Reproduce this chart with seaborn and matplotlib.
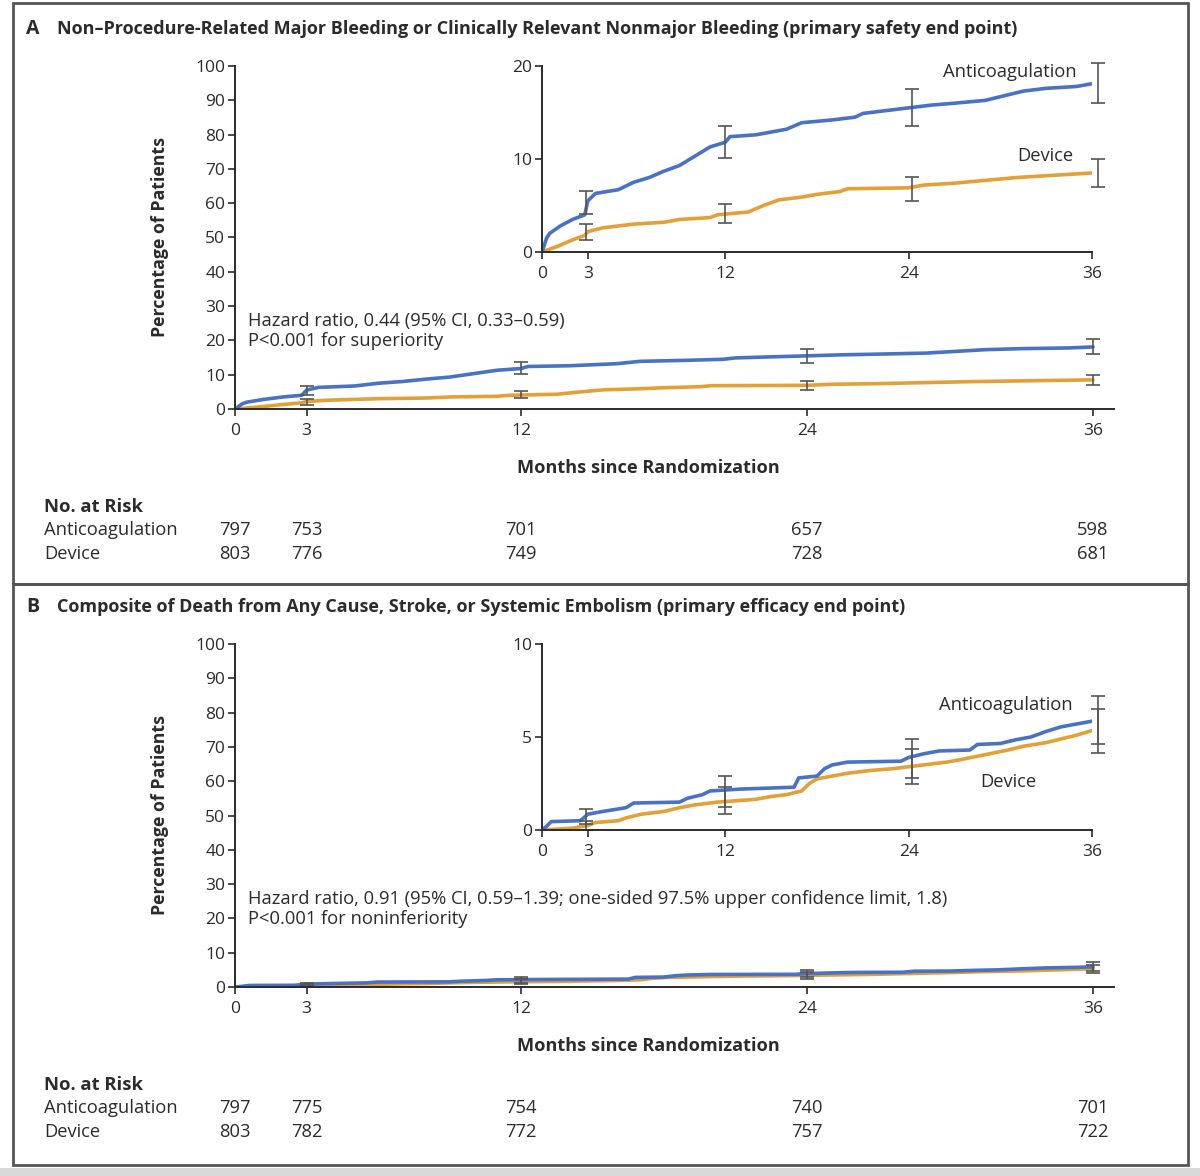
import matplotlib
matplotlib.use("Agg")
import matplotlib.pyplot as plt
import seaborn as sns

# panel A: bleeding end point (percent of patients, KM estimates)
a_anti_t = [0, 0.3, 0.5, 1.2, 2.0, 2.8, 3.0, 3.5, 5.0, 6.0, 7.0, 8.0, 9.0, 10.0, 11.0, 12.0, 12.3,
            14.0, 16.0, 17.0, 19.0, 20.5, 21.0, 23.0, 24.5, 25.5, 27.0, 29.0, 30.5, 31.5, 33.0, 35.0, 36.0]
a_anti_y = [0, 1.5, 2.0, 2.8, 3.5, 4.0, 5.5, 6.3, 6.7, 7.5, 8.0, 8.7, 9.3, 10.3, 11.3, 11.8, 12.4,
            12.6, 13.2, 13.9, 14.2, 14.5, 14.9, 15.3, 15.6, 15.8, 16.0, 16.3, 16.9, 17.3, 17.6, 17.8, 18.1]
a_dev_t = [0, 1.0, 2.0, 2.8, 3.0, 4.0, 5.5, 6.0, 8.0, 9.0, 11.0, 11.5, 13.5, 14.5, 15.5, 17.0, 18.0,
           19.5, 20.0, 24.0, 25.0, 27.0, 29.0, 31.0, 34.0, 36.0]
a_dev_y = [0, 0.6, 1.3, 1.8, 2.2, 2.6, 2.9, 3.0, 3.2, 3.5, 3.7, 4.0, 4.3, 5.0, 5.6, 5.9, 6.2,
           6.5, 6.8, 6.9, 7.2, 7.4, 7.7, 8.0, 8.3, 8.5]
a_anti_lo = [4.1, 10.1, 13.5, 16.0]
a_anti_hi = [6.6, 13.6, 17.5, 20.3]
a_dev_lo = [1.3, 3.1, 5.5, 7.0]
a_dev_hi = [3.0, 5.2, 8.1, 10.0]

# panel B: death, stroke or systemic embolism
b_anti_t = [0, 0.3, 0.6, 2.5, 2.8, 3.0, 4.0, 5.5, 6.0, 9.0, 9.5, 10.5, 11.0, 13.0, 16.5, 16.8,
            18.0, 18.5, 19.0, 20.0, 23.5, 24.0, 25.0, 26.0, 28.0, 28.5, 30.0, 31.0, 32.0, 33.0,
            34.0, 35.0, 36.0]
b_anti_y = [0, 0.2, 0.45, 0.5, 0.7, 0.85, 1.0, 1.2, 1.45, 1.5, 1.7, 1.9, 2.1, 2.2, 2.3, 2.8,
            2.9, 3.3, 3.5, 3.65, 3.7, 3.9, 4.1, 4.25, 4.3, 4.6, 4.65, 4.85, 5.0, 5.3,
            5.55, 5.7, 5.85]
b_dev_t = [0, 2.0, 3.0, 3.5, 5.0, 5.5, 6.5, 8.0, 9.0, 10.0, 11.5, 14.0, 15.0, 16.0, 17.0, 17.5,
           18.0, 19.0, 20.0, 21.5, 23.0, 24.0, 26.5, 27.5, 30.5, 31.5, 33.0, 34.0, 35.0, 36.0]
b_dev_y = [0, 0.1, 0.25, 0.4, 0.5, 0.65, 0.85, 1.0, 1.2, 1.35, 1.5, 1.65, 1.8, 1.9, 2.1, 2.5,
           2.75, 2.9, 3.05, 3.2, 3.3, 3.4, 3.65, 3.8, 4.3, 4.5, 4.7, 4.9, 5.1, 5.35]
b_anti_lo = [0.3, 1.25, 2.8, 4.6]
b_anti_hi = [1.15, 2.9, 4.9, 7.2]
b_dev_lo = [0.0, 0.85, 2.45, 4.15]
b_dev_hi = [0.5, 2.3, 4.35, 6.5]

ci_t_main = [3, 12, 24, 36]
ci_t_inset = [2.9, 12, 24.2, 36.4]

risk_months = [0, 3, 12, 24, 36]
a_risk_anti = [797, 753, 701, 657, 598]
a_risk_dev = [803, 776, 749, 728, 681]
b_risk_anti = [797, 775, 754, 740, 701]
b_risk_dev = [803, 782, 772, 757, 722]

titles = ["Non\u2013Procedure-Related Major Bleeding or Clinically Relevant Nonmajor Bleeding (primary safety end point)",
          "Composite of Death from Any Cause, Stroke, or Systemic Embolism (primary efficacy end point)"]
hr_text = ["Hazard ratio, 0.44 (95% CI, 0.33\u20130.59)\nP<0.001 for superiority",
           "Hazard ratio, 0.91 (95% CI, 0.59\u20131.39; one-sided 97.5% upper confidence limit, 1.8)\nP<0.001 for noninferiority"]

BLUE = "#4a72c4"
ORANGE = "#e3a037"
INK = "#2b2b2b"
W, H = 1200, 1176
FS = 13.2

sns.set_theme(style="white")
plt.rcParams['font.family'] = ['Open Sans', 'DejaVu Sans']

fig = plt.figure(figsize=(W / 100, H / 100), dpi=100)


def px_axes(x0, top, x1, bottom):
    return fig.add_axes([x0 / W, 1 - bottom / H, (x1 - x0) / W, (bottom - top) / H])


def ftext(x, y, s, **kw):
    fig.text(x / W, 1 - y / H, s, color=INK, **kw)


def style_axes(ax, yticks, ymax, xmax):
    ax.set_xlim(0, xmax)
    ax.set_ylim(0, ymax)
    ax.set_xticks([0, 3, 12, 24, 36])
    ax.set_yticks(yticks)
    ax.set_facecolor("none")
    sns.despine(ax=ax)
    for s in ["left", "bottom"]:
        ax.spines[s].set_color(INK)
        ax.spines[s].set_linewidth(1.4)
    ax.tick_params(axis="both", direction="out", length=5, width=1.2, color=INK,
                   labelsize=12.5, labelcolor=INK, pad=2, left=True, bottom=True)
    ax.tick_params(axis="x", pad=5)
    ax.set_xlabel("")
    ax.set_ylabel("")
    ax.grid(False)


def draw_curves(ax, anti_t, anti_y, dev_t, dev_y, ci_t, alo, ahi, dlo, dhi):
    sns.lineplot(x=dev_t, y=dev_y, ax=ax, color=ORANGE, lw=2.6, estimator=None, legend=False)
    sns.lineplot(x=anti_t, y=anti_y, ax=ax, color=BLUE, lw=2.6, estimator=None, legend=False)
    for lo, hi in [(alo, ahi), (dlo, dhi)]:
        mid = [(l + h) / 2 for l, h in zip(lo, hi)]
        err = [[m - l for m, l in zip(mid, lo)], [h - m for m, h in zip(mid, hi)]]
        eb = ax.errorbar(ci_t, mid, yerr=err, fmt="none", ecolor="#555555", elinewidth=1.2,
                         capsize=5, capthick=1.2)
        for art in eb.lines[1] + eb.lines[2]:
            art.set_clip_on(False)


panels = [
    dict(top=0, letter="A", anti=(a_anti_t, a_anti_y), dev=(a_dev_t, a_dev_y),
         ci=(a_anti_lo, a_anti_hi, a_dev_lo, a_dev_hi), inset_max=20, inset_ticks=[0, 10, 20],
         risk=(a_risk_anti, a_risk_dev), lab_anti=(1077, 72), lab_dev=(1073, 156)),
    dict(top=578, letter="B", anti=(b_anti_t, b_anti_y), dev=(b_dev_t, b_dev_y),
         ci=(b_anti_lo, b_anti_hi, b_dev_lo, b_dev_hi), inset_max=10, inset_ticks=[0, 5, 10],
         risk=(b_risk_anti, b_risk_dev), lab_anti=(1073, 705 - 578), lab_dev=(1036, 782 - 578)),
]

x0, x36 = 235, 1093
scale = (x36 - x0) / 36.0

for i, p in enumerate(panels):
    t = p["top"]
    # main axes
    ax = px_axes(x0, t + 66, x0 + 36.9 * scale, t + 409)
    draw_curves(ax, *p["anti"], *p["dev"], ci_t_main, *p["ci"])
    style_axes(ax, list(range(0, 101, 10)), 100, 36.9)

    # inset
    ins = px_axes(542, t + 66, 1092, t + 252)
    draw_curves(ins, *p["anti"], *p["dev"], ci_t_inset, *p["ci"])
    style_axes(ins, p["inset_ticks"], p["inset_max"], 36)

    ftext(p["lab_anti"][0], t + p["lab_anti"][1], "Anticoagulation", ha="right", va="center", fontsize=FS)
    ftext(p["lab_dev"][0], t + p["lab_dev"][1], "Device", ha="right", va="center", fontsize=FS)

    # titles and labels
    ftext(26, t + 29, p["letter"], fontsize=14, fontweight="bold", va="center")
    ftext(57, t + 29, titles[i], fontsize=13, fontweight="bold", va="center")
    ftext(160, t + 237, "Percentage of Patients", rotation=90, fontsize=12.8, fontweight="bold",
          ha="center", va="center")
    ftext(648, t + 468, "Months since Randomization", fontsize=13.1, fontweight="bold",
          ha="center", va="center")
    ftext(248, t + 331, hr_text[i], fontsize=FS, va="center", linespacing=1.2)

    # number at risk
    ftext(44, t + 507, "No. at Risk", fontsize=13.3, fontweight="bold", va="center")
    ftext(44, t + 530, "Anticoagulation", fontsize=FS, va="center")
    ftext(44, t + 554, "Device", fontsize=FS, va="center")
    for m, na, nd in zip(risk_months, *p["risk"]):
        xx = x0 + m * scale
        ftext(xx, t + 530, str(na), fontsize=FS, ha="center", va="center")
        ftext(xx, t + 554, str(nd), fontsize=FS, ha="center", va="center")

# panel frames
for top, bottom in [(3, 584), (584, 1165)]:
    fig.add_artist(plt.Rectangle((13 / W, 1 - bottom / H), (1188 - 13) / W, (bottom - top) / H,
                                 transform=fig.transFigure, fill=False, edgecolor="#555555", lw=2))
fig.add_artist(plt.Rectangle((0, 0), 1, 1 - 1168 / H, transform=fig.transFigure,
                             facecolor="#d9d9d9", edgecolor="none"))

fig.savefig("out.png", dpi=100)
